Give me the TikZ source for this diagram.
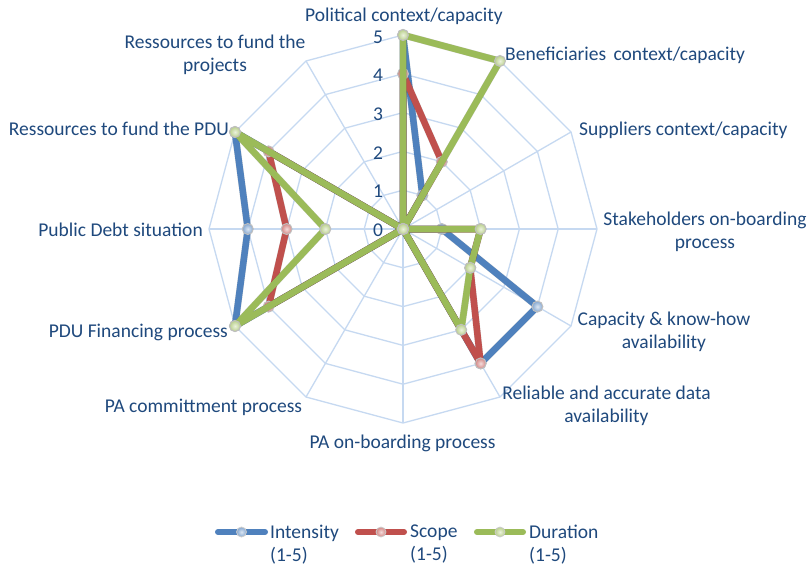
\documentclass[tikz,border=0pt]{standalone}
\usepackage{fontspec}
\setmainfont{Carlito}
\definecolor{txt}{HTML}{1F497D}
\definecolor{gridc}{HTML}{C6D9F1}
\definecolor{serA}{HTML}{4F81BD}
\definecolor{serB}{HTML}{C0504D}
\definecolor{serC}{HTML}{9BBB59}
\begin{document}
\begin{tikzpicture}[x=1pt,y=-1pt,
  lbl/.style={text=txt, font=\fontsize{19.5}{23}\selectfont, inner sep=0pt, align=center},
  tick/.style={text=txt, font=\fontsize{19.5}{23}\selectfont, inner sep=0pt},
  gridline/.style={draw=gridc, line width=1.3pt},
  serline/.style={line width=6.5pt, line join=round, line cap=round},
  shadowline/.style={line width=7pt, line join=round, line cap=round, draw=black, opacity=0.18},
  mk/.style={circle, minimum size=11pt, inner sep=0pt, draw=gray!50, line width=1pt, inner color=#1!20!white, outer color=#1!70!white},
  lmk/.style={circle, minimum size=10pt, inner sep=0pt, draw=gray!40, line width=0.8pt, inner color=#1!20!white, outer color=#1!70!white}]
\useasboundingbox (0,0) rectangle (811,571);
\fill[white] (0,0) rectangle (811,571);
\coordinate (c) at (403,229);
\begin{scope}[shift={(403,229)}]
  % grid
  \foreach \r in {1,...,5}{
    \draw[gridline] (-90:{\r*38.8}) \foreach \a in {1,...,11}{ -- ({-90+30*\a}:{\r*38.8}) } -- cycle;
  }
  \foreach \a in {0,...,11}{
    \coordinate (ax\a) at ({-90+30*\a}:194);
    \draw[gridline] (c) -- (ax\a);
  }
  % data
  \foreach \v [count=\k from 0] in {5,1,0,1,4,4,0,0,5,4,5,0}
    \coordinate (i\k) at ({-90+30*\k}:{\v*38.8});
  \foreach \v [count=\k from 0] in {4,2,0,2,2,4,0,0,4,3,4,0}
    \coordinate (s\k) at ({-90+30*\k}:{\v*38.8});
  \foreach \v [count=\k from 0] in {5,5,0,2,2,3,0,0,5,2,5,0}
    \coordinate (d\k) at ({-90+30*\k}:{\v*38.8});
\end{scope}
% ticks
\foreach \t in {0,...,5}
  \node[tick] (tk\t) at (378,{230-38.6*\t}) {\t};
% series A
\begin{scope}[shift={(1.5,2.5)}]
\draw[shadowline] (i0)--(i1)--(i2)--(i3)--(i4)--(i5)--(i6)--(i7)--(i8)--(i9)--(i10)--(i11)--cycle;
\end{scope}
\draw[serline, draw=serA] (i0)--(i1)--(i2)--(i3)--(i4)--(i5)--(i6)--(i7)--(i8)--(i9)--(i10)--(i11)--cycle;
\foreach \k in {0,...,11} \node[mk=serA] (mi\k) at (i\k) {};
% series B
\begin{scope}[shift={(1.5,2.5)}]
\draw[shadowline] (s0)--(s1)--(s2)--(s3)--(s4)--(s5)--(s6)--(s7)--(s8)--(s9)--(s10)--(s11)--cycle;
\end{scope}
\draw[serline, draw=serB] (s0)--(s1)--(s2)--(s3)--(s4)--(s5)--(s6)--(s7)--(s8)--(s9)--(s10)--(s11)--cycle;
\foreach \k in {0,...,11} \node[mk=serB] (ms\k) at (s\k) {};
% series C
\begin{scope}[shift={(1.5,2.5)}]
\draw[shadowline] (d0)--(d1)--(d2)--(d3)--(d4)--(d5)--(d6)--(d7)--(d8)--(d9)--(d10)--(d11)--cycle;
\end{scope}
\draw[serline, draw=serC] (d0)--(d1)--(d2)--(d3)--(d4)--(d5)--(d6)--(d7)--(d8)--(d9)--(d10)--(d11)--cycle;
\foreach \k in {0,...,11} \node[mk=serC] (md\k) at (d\k) {};
% axis labels
\node[lbl] (l0) at (404,16) {Political context/capacity};
\node[lbl, anchor=west] (l1) at (505,55) {Beneficiaries\hspace{0.15em} context/capacity};
\node[lbl, anchor=west] (l2) at (579,130) {Suppliers context/capacity};
\node[lbl] (l3) at (705,231.5) {Stakeholders on-boarding\\process};
\node[lbl] (l4) at (664,331.5) {Capacity \& know-how\\availability};
\node[lbl] (l5) at (606.5,406) {Reliable and accurate data\\availability};
\node[lbl] (l6) at (402.5,443) {PA on-boarding process};
\node[lbl] (l7) at (203.5,407) {PA committment process};
\node[lbl, anchor=east] (l8) at (228,332) {PDU Financing process};
\node[lbl, anchor=east] (l9) at (203,230) {Public Debt situation};
\node[lbl, anchor=east] (l10) at (229,129) {Ressources to fund the PDU};
\node[lbl] (l11) at (215,55) {Ressources to fund the\\projects};
% legend
\coordinate (la1) at (218,532); \coordinate (la2) at (265,532);
\draw[line width=6pt, line cap=round, draw=serA] (la1) -- (la2);
\node[lmk=serA] (lma) at (241.5,532) {};
\node[lbl, align=left, anchor=west] (lta) at (270,544.5) {Intensity\\(1-5)};
\coordinate (lb1) at (358,532); \coordinate (lb2) at (404,532);
\draw[line width=6pt, line cap=round, draw=serB] (lb1) -- (lb2);
\node[lmk=serB] (lmb) at (381,532) {};
\node[lbl, align=left, anchor=west] (ltb) at (410,544.5) {Scope\\(1-5)};
\coordinate (lc1) at (477,532); \coordinate (lc2) at (523,532);
\draw[line width=6pt, line cap=round, draw=serC] (lc1) -- (lc2);
\node[lmk=serC] (lmc) at (500,532) {};
\node[lbl, align=left, anchor=west] (ltc) at (529,544.5) {Duration\\(1-5)};
\end{tikzpicture}
\end{document}
